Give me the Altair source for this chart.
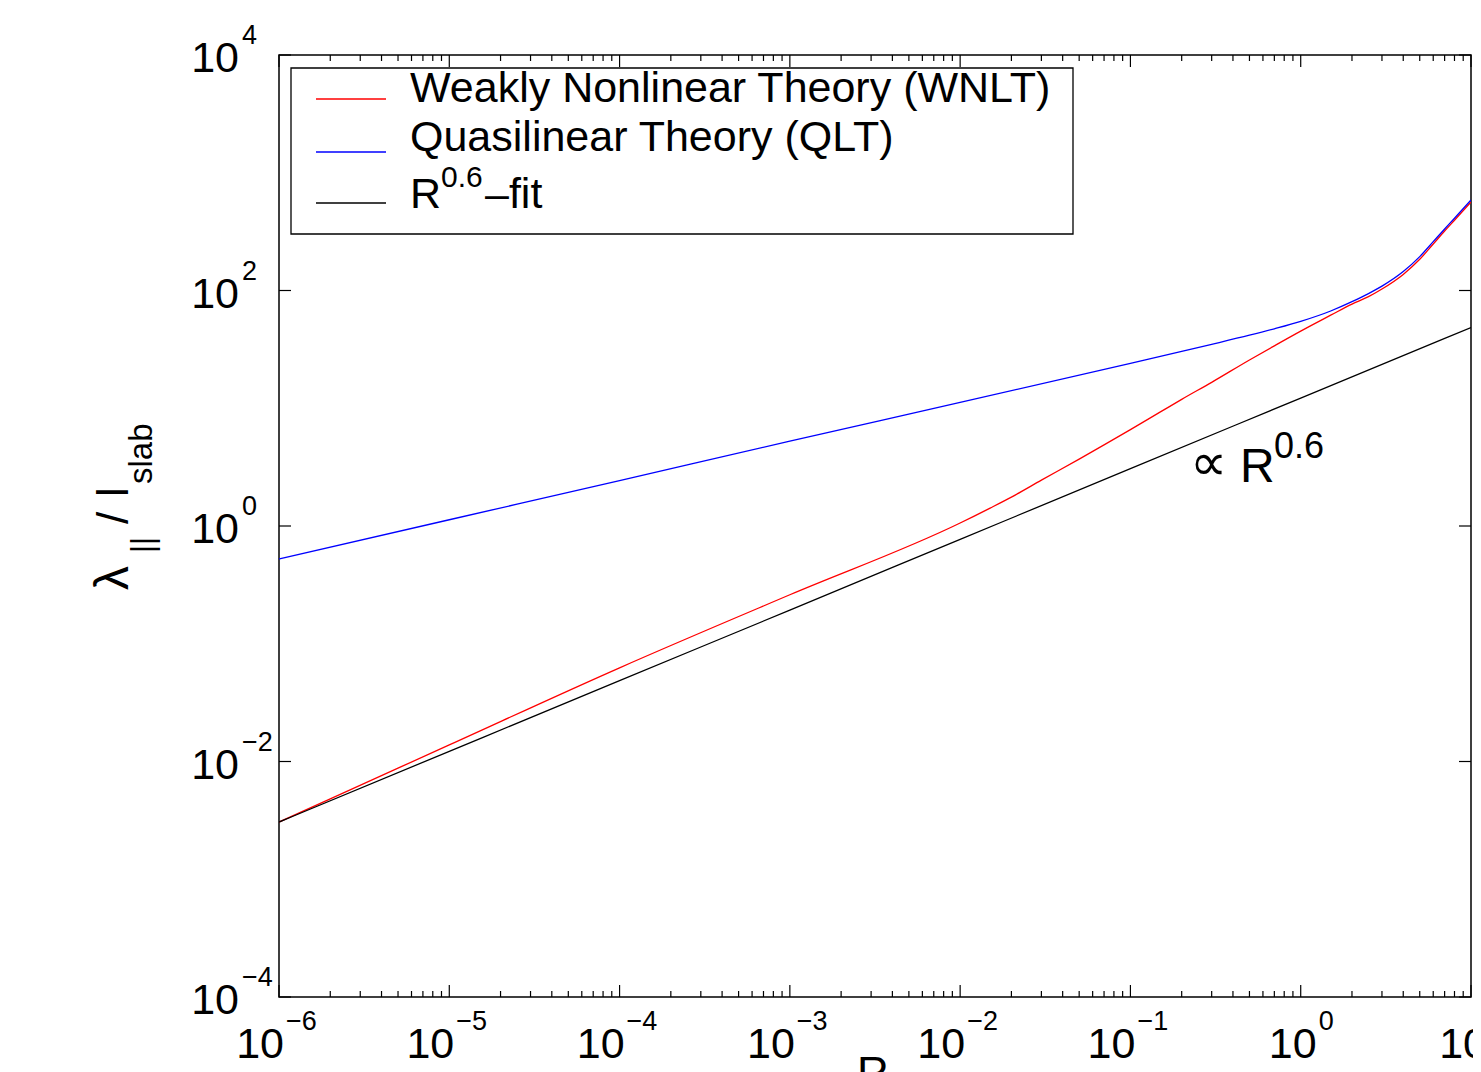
import altair as alt
import pandas as pd

FONT = "Liberation Sans, Arial, Helvetica, sans-serif"

# ---------------- data ----------------
wnlt_R = [1e-6, 2e-6, 1e-5, 1e-4, 1e-3, 1e-2, 0.015, 0.02, 0.03, 0.05, 0.07, 0.1, 0.15,
          0.2, 0.3, 0.5, 0.7, 1, 1.5, 2, 2.5, 3, 4, 5, 6, 7, 8, 10]
wnlt_lam = [0.00306, 0.00481, 0.01384, 0.0625, 0.2606, 1.06, 1.42, 1.76, 2.45, 3.70, 4.89,
            6.59, 9.31, 11.9, 16.6, 25.7, 33.9, 45.2, 61.7, 76.7, 88.7, 103, 137, 184,
            248, 320, 395, 565]

qlt_R = [1e-6, 1e-5, 1e-4, 1e-3, 1e-2, 1e-1, 0.2, 0.3, 0.5, 0.7, 1, 1.5, 2, 2.5, 3, 4,
         5, 6, 7, 8, 10]
qlt_lam = [0.525, 1.13, 2.43, 5.25, 11.2, 24.1, 30.4, 34.9, 41.7, 47.3, 54.7, 67.0, 80.4,
           94.2, 109, 145, 194, 260, 333, 411, 587]

fit_R = [1e-6, 1e-5, 1e-4, 1e-3, 1e-2, 1e-1, 1, 10]
fit_lam = [0.00306, 0.0122, 0.0486, 0.193, 0.770, 3.07, 12.2, 48.5]

legend_labels = ["Weakly Nonlinear Theory (WNLT)", "Quasilinear Theory (QLT)"]
fit_label_parts = ["R", "0.6", "\u2013fit"]
series_colors = ["#ff0000", "#0000ff", "#000000"]

x_exponents = [-6, -5, -4, -3, -2, -1, 0, 1]
y_exponents = [-4, -2, 0, 2, 4]
minor_mult = [2, 3, 4, 5, 6, 7, 8, 9]

annot_parts = ["\u221d", "R", "0.6"]
x_title = "R"

# ---------------- layout ----------------
W, H = 1192, 942
xs = alt.Scale(type="log", domain=[1e-6, 10], nice=False)
ys = alt.Scale(type="log", domain=[1e-4, 1e4], nice=False)
one = pd.DataFrame({"k": [0]})


def sup(e):
    return ("\u2212" + str(-e)) if e < 0 else str(e)


def X(field="R"):
    return alt.X(f"{field}:Q", scale=xs, axis=None)


def Y(field="lam"):
    return alt.Y(f"{field}:Q", scale=ys, axis=None)


def curve(R, lam, color):
    df = pd.DataFrame({"R": R, "lam": lam})
    return alt.Chart(df).mark_line(color=color, strokeWidth=1.3, clip=True,
                                   interpolate="monotone").encode(
        x=X(), y=Y(), order="R:Q")


layers = []
layers.append(curve(wnlt_R, wnlt_lam, series_colors[0]))
layers.append(curve(qlt_R, qlt_lam, series_colors[1]))
layers.append(curve(fit_R, fit_lam, series_colors[2]))

# ---------------- ticks (inward, all four sides) ----------------
x_major = pd.DataFrame({"R": [10.0 ** e for e in x_exponents]})
x_minor = pd.DataFrame({"R": [m * 10.0 ** e for e in x_exponents[:-1] for m in minor_mult]})
y_major = pd.DataFrame({"lam": [10.0 ** e for e in y_exponents]})

tick_style = dict(color="black", strokeWidth=1.2)
for df, L in [(x_major, 12), (x_minor, 6)]:
    layers.append(alt.Chart(df).mark_rule(**tick_style).encode(
        x=X(), y=alt.value(H), y2=alt.value(H - L)))
    layers.append(alt.Chart(df).mark_rule(**tick_style).encode(
        x=X(), y=alt.value(0), y2=alt.value(L)))
layers.append(alt.Chart(y_major).mark_rule(**tick_style).encode(
    y=Y(), x=alt.value(0), x2=alt.value(12)))
layers.append(alt.Chart(y_major).mark_rule(**tick_style).encode(
    y=Y(), x=alt.value(W), x2=alt.value(W - 12)))

# ---------------- tick labels (10 with superscript exponent) ----------------
xl = pd.DataFrame({"R": [10.0 ** e for e in x_exponents],
                   "e": [sup(e) for e in x_exponents],
                   "neg": [e < 0 for e in x_exponents]})
xl_neg = xl[xl["neg"]]
xl_pos = xl[~xl["neg"]]
BASE_FS, EXP_FS = 43, 27
for df, d10, dexp in [(xl_neg, 5, 7), (xl_pos, 16, 18)]:
    layers.append(alt.Chart(df).mark_text(
        text="10", align="right", baseline="alphabetic", dx=d10,
        fontSize=BASE_FS, font=FONT, color="black").encode(
        x=X(), y=alt.value(1003)))
    layers.append(alt.Chart(df).mark_text(
        align="left", baseline="alphabetic", dx=dexp,
        fontSize=EXP_FS, font=FONT, color="black").encode(
        x=X(), y=alt.value(975), text="e:N"))

yl = pd.DataFrame({"lam": [10.0 ** e for e in y_exponents],
                   "e": [sup(e) for e in y_exponents]})
layers.append(alt.Chart(yl).mark_text(
    text="10", align="right", baseline="alphabetic", dy=17,
    fontSize=BASE_FS, font=FONT, color="black").encode(
    x=alt.value(-40), y=Y()))
layers.append(alt.Chart(yl).mark_text(
    align="left", baseline="alphabetic", dy=-11,
    fontSize=EXP_FS, font=FONT, color="black").encode(
    x=alt.value(-37), y=Y(), text="e:N"))


def txt(s, x, y, size, angle=None, align="left"):
    kw = dict(text=s, align=align, baseline="alphabetic", fontSize=size,
              font=FONT, color="black")
    if angle is not None:
        kw["angle"] = angle
    return alt.Chart(one).mark_text(**kw).encode(x=alt.value(x), y=alt.value(y))


# ---------------- axis titles ----------------
layers.append(txt(x_title, 594, 1033, 44, align="center"))
# rotated y title: lambda_|| / l_slab
layers.append(txt("\u03bb", -151, 535, 48, angle=270))
layers.append(txt("||", -126, 498, 31, angle=270))
layers.append(txt("/", -151, 469, 44, angle=270))
layers.append(txt("l", -151, 442, 44, angle=270))
layers.append(txt("slab", -127, 429, 33, angle=270))

# ---------------- legend ----------------
layers.append(alt.Chart(one).mark_rect(fill="white", stroke="black", strokeWidth=1.3).encode(
    x=alt.value(12), x2=alt.value(794), y=alt.value(13), y2=alt.value(179)))
for i, yy in enumerate([44, 97, 148]):
    layers.append(alt.Chart(one).mark_rule(color=series_colors[i], strokeWidth=1.3).encode(
        x=alt.value(37), x2=alt.value(107), y=alt.value(yy)))
layers.append(txt(legend_labels[0], 131, 47, 43))
layers.append(txt(legend_labels[1], 131, 96, 43))
layers.append(txt(fit_label_parts[0], 131, 153, 43))
layers.append(txt(fit_label_parts[1], 162, 132, 30))
layers.append(txt(fit_label_parts[2], 206, 153, 43))

# ---------------- annotation ----------------
layers.append(txt(annot_parts[0], 911, 425, 52))
layers.append(txt(annot_parts[1], 961, 427, 48))
layers.append(txt(annot_parts[2], 995, 403, 36))

chart = alt.layer(*layers).properties(
    width=W, height=H,
    autosize=alt.AutoSizeParams(type="none"),
    padding={"left": 271, "top": 47, "right": 2, "bottom": 80},
    background="white",
).configure_view(stroke="black", strokeWidth=1.5)

chart.save("out.html", embed_options={"renderer": "svg", "actions": False})
